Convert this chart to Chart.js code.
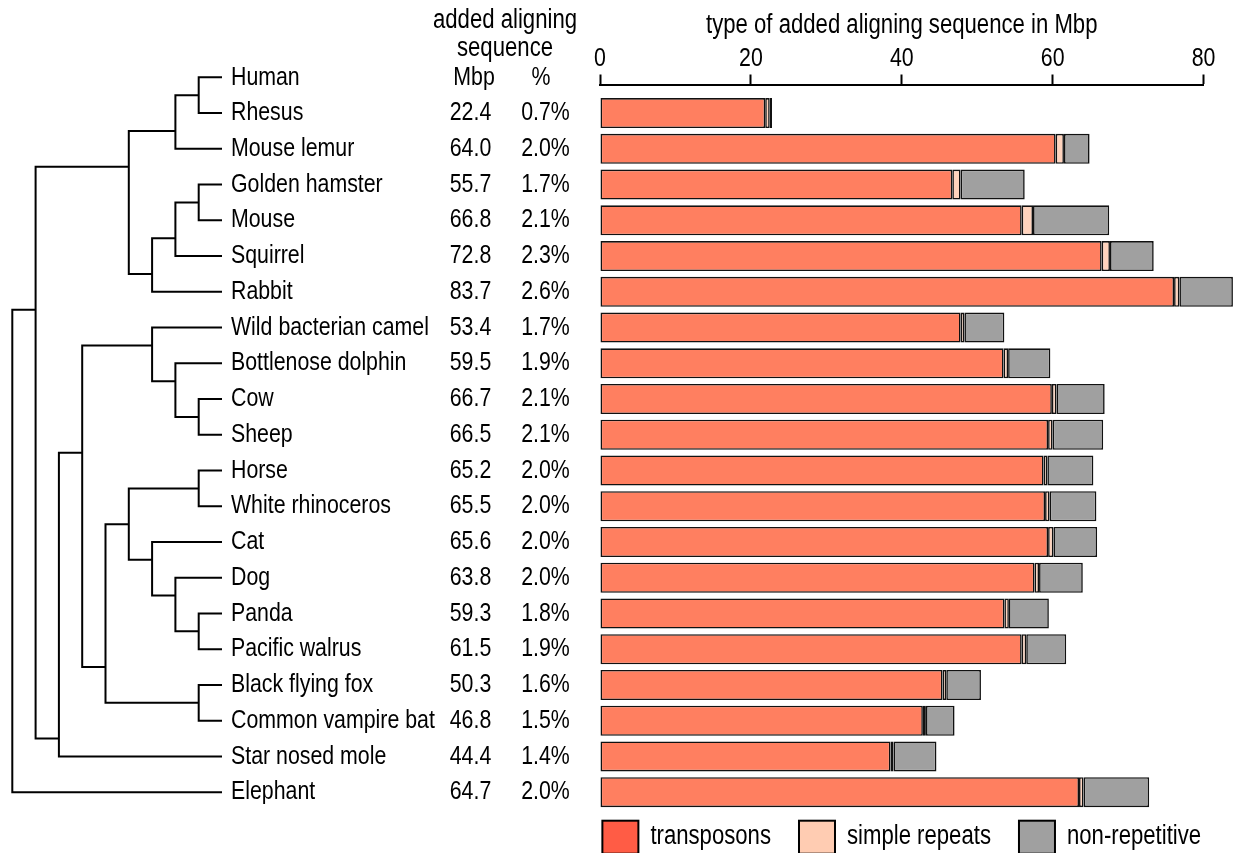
<!DOCTYPE html>
<html lang="en">
<head>
<meta charset="utf-8">
<title>Added aligning sequence</title>
<script src="https://cdn.jsdelivr.net/npm/chart.js@4.4.1/dist/chart.umd.min.js"></script>
<style>
  html, body { margin: 0; padding: 0; background: #fff; overflow: hidden; }
  .chart-box { position: relative; width: 1238px; height: 853px; }
</style>
</head>
<body>
<div class="chart-box"><canvas id="chart"></canvas></div>
<script>
// rows, top to bottom (Human is the reference, no bar)
const species = [
  'Human', 'Rhesus', 'Mouse lemur', 'Golden hamster', 'Mouse', 'Squirrel', 'Rabbit',
  'Wild bacterian camel', 'Bottlenose dolphin', 'Cow', 'Sheep', 'Horse', 'White rhinoceros',
  'Cat', 'Dog', 'Panda', 'Pacific walrus', 'Black flying fox', 'Common vampire bat',
  'Star nosed mole', 'Elephant'
];
const addedMbp = [null, 22.4, 64.0, 55.7, 66.8, 72.8, 83.7, 53.4, 59.5, 66.7, 66.5, 65.2, 65.5, 65.6, 63.8, 59.3, 61.5, 50.3, 46.8, 44.4, 64.7];
const addedPercent = [null, 0.7, 2.0, 1.7, 2.1, 2.3, 2.6, 1.7, 1.9, 2.1, 2.1, 2.0, 2.0, 2.0, 2.0, 1.8, 1.9, 1.6, 1.5, 1.4, 2.0];

// bar segments in Mbp
const transposons   = [null, 21.9, 60.4, 46.7, 55.9, 66.5, 76.1, 47.8, 53.5, 59.9, 59.4, 58.8, 59.0, 59.4, 57.6, 53.6, 55.9, 45.4, 42.8, 38.5, 63.5];
const simpleRepeats = [null, 0.6, 1.1, 1.1, 1.5, 1.1, 0.7, 0.5, 0.6, 0.6, 0.6, 0.5, 0.6, 0.7, 0.6, 0.6, 0.6, 0.5, 0.4, 0.4, 0.6];
const nonRepetitive = [null, 0.3, 3.4, 8.5, 10.1, 5.8, 7.1, 5.3, 5.6, 6.4, 6.7, 6.1, 6.2, 5.8, 5.8, 5.3, 5.3, 4.6, 3.8, 5.7, 8.7];

const axisTicks = [0, 20, 40, 60, 80];
const axisTitle = 'type of added aligning sequence in Mbp';
const seriesNames = ['transposons', 'simple repeats', 'non-repetitive'];

// species tree, nested pairs
const tree = [
  [
    [
      [['Human', 'Rhesus'], 'Mouse lemur'],
      [[['Golden hamster', 'Mouse'], 'Squirrel'], 'Rabbit']
    ],
    [
      [
        ['Wild bacterian camel', ['Bottlenose dolphin', ['Cow', 'Sheep']]],
        [
          [['Horse', 'White rhinoceros'], ['Cat', ['Dog', ['Panda', 'Pacific walrus']]]],
          ['Black flying fox', 'Common vampire bat']
        ]
      ],
      'Star nosed mole'
    ]
  ],
  'Elephant'
];

const FONT = '"Liberation Sans", Arial, Helvetica, sans-serif';
const TEXT_SIZE = 26;
const SQUEEZE = 0.82; // the figure uses a condensed face
const barColors = ['#ff7f60', '#ffd3bd', '#a0a0a0'];
const legendColors = ['#ff5c45', '#ffccb2', '#a0a0a0'];

const toPoints = function (values) {
  return values.map(function (v, i) { return { x: v, y: i }; }).filter(function (p) { return p.x !== null; });
};

// condensed text: squeeze horizontally around the anchor
const text = function (ctx, str, x, y, align) {
  ctx.save();
  ctx.translate(x, y);
  ctx.scale(SQUEEZE, 1);
  ctx.textAlign = align || 'left';
  ctx.fillText(str, 0, 0);
  ctx.restore();
};

const setFont = function (ctx, size) { ctx.font = size + 'px ' + FONT; };

const layoutTree = function (node) {
  if (typeof node === 'string') {
    const row = species.indexOf(node);
    return { level: 9, row: row, first: row, last: row, kids: [] };
  }
  const a = layoutTree(node[0]);
  const b = layoutTree(node[1]);
  return {
    level: Math.min(a.level, b.level) - 1,
    row: (a.last + b.first) / 2,
    first: a.first,
    last: b.last,
    kids: [a, b]
  };
};

const levelX = function (level) { return 12.3 + level * 23.3; };

const drawTree = function (ctx, yScale, node) {
  if (!node.kids.length) return;
  const a = node.kids[0];
  const b = node.kids[1];
  const x = levelX(node.level);
  ctx.beginPath();
  ctx.moveTo(levelX(a.level), yScale.getPixelForValue(a.row));
  ctx.lineTo(x, yScale.getPixelForValue(a.row));
  ctx.lineTo(x, yScale.getPixelForValue(b.row));
  ctx.lineTo(levelX(b.level), yScale.getPixelForValue(b.row));
  ctx.stroke();
  drawTree(ctx, yScale, a);
  drawTree(ctx, yScale, b);
};

const drawLegend = function (ctx, area) {
  const box = 36;
  const gap = 12;
  const spacing = 28;
  setFont(ctx, 27);
  const widths = seriesNames.map(function (name) { return ctx.measureText(name).width * SQUEEZE; });
  const total = widths.reduce(function (s, w) { return s + box + gap + w; }, 0) + spacing * (seriesNames.length - 1);
  let x = (area.left + area.right) / 2 - total / 2;
  const top = area.bottom + 28.5;
  seriesNames.forEach(function (name, i) {
    ctx.fillStyle = legendColors[i];
    ctx.fillRect(x, top, box, 33);
    ctx.strokeStyle = '#000';
    ctx.lineWidth = 2;
    ctx.strokeRect(x, top, box, 33);
    ctx.fillStyle = '#000';
    text(ctx, name, x + box + gap, top + 16);
    x += box + gap + widths[i] + spacing;
  });
};

const sidePanel = {
  id: 'sidePanel',
  afterDraw: function (chart) {
    const ctx = chart.ctx;
    const xScale = chart.scales.x;
    const yScale = chart.scales.y;
    ctx.save();
    ctx.fillStyle = '#000';
    ctx.textBaseline = 'middle';
    setFont(ctx, TEXT_SIZE);

    species.forEach(function (name, i) {
      const py = yScale.getPixelForValue(i);
      text(ctx, name, 231, py, 'left');
      if (addedMbp[i] !== null) {
        text(ctx, addedMbp[i].toFixed(1), 470.5, py, 'center');
        text(ctx, addedPercent[i].toFixed(1) + '%', 545.5, py, 'center');
      }
    });

    const headY = yScale.getPixelForValue(0);
    text(ctx, 'Mbp', 474, headY, 'center');
    text(ctx, '%', 541, headY, 'center');

    // top axis labels
    axisTicks.forEach(function (v) {
      text(ctx, String(v), xScale.getPixelForValue(v), 59, 'center');
    });

    setFont(ctx, 27);
    text(ctx, 'added aligning', 505, 21, 'center');
    text(ctx, 'sequence', 505, 49, 'center');
    text(ctx, axisTitle, (chart.chartArea.left + chart.chartArea.right) / 2, 26, 'center');

    drawLegend(ctx, chart.chartArea);

    ctx.strokeStyle = '#000';
    ctx.lineWidth = 2;
    ctx.lineJoin = 'miter';
    drawTree(ctx, yScale, layoutTree(tree));
    ctx.restore();
  }
};

Chart.defaults.font.family = FONT;
Chart.defaults.color = '#000';

const segments = [transposons, simpleRepeats, nonRepetitive];

new Chart(document.getElementById('chart'), {
  type: 'bar',
  data: {
    datasets: segments.map(function (values, i) {
      return {
        label: seriesNames[i],
        data: toPoints(values),
        backgroundColor: barColors[i],
        borderColor: '#111',
        borderWidth: 1.6,
        borderSkipped: false,
        clip: false,
        barPercentage: 0.84,
        categoryPercentage: 1
      };
    })
  },
  options: {
    indexAxis: 'y',
    responsive: true,
    maintainAspectRatio: false,
    animation: false,
    events: [],
    layout: { padding: { left: 600, right: 34.5, top: 0, bottom: 60.8 } },
    scales: {
      x: {
        type: 'linear',
        position: 'top',
        min: 0,
        max: 80,
        stacked: true,
        afterBuildTicks: function (scale) {
          scale.ticks = axisTicks.map(function (v) { return { value: v }; });
        },
        afterFit: function (scale) { scale.height = 84.5; },
        ticks: { display: false },
        grid: { drawOnChartArea: false, drawTicks: true, tickLength: 10, tickWidth: 2, tickColor: '#000' },
        border: { display: true, color: '#000', width: 2 },
        title: { display: false }
      },
      y: {
        type: 'linear',
        reverse: true,
        offset: false,
        min: 0.2,
        max: 20,
        stacked: true,
        display: false
      }
    },
    plugins: {
      tooltip: { enabled: false },
      legend: { display: false }
    }
  },
  plugins: [sidePanel]
});
</script>
</body>
</html>
